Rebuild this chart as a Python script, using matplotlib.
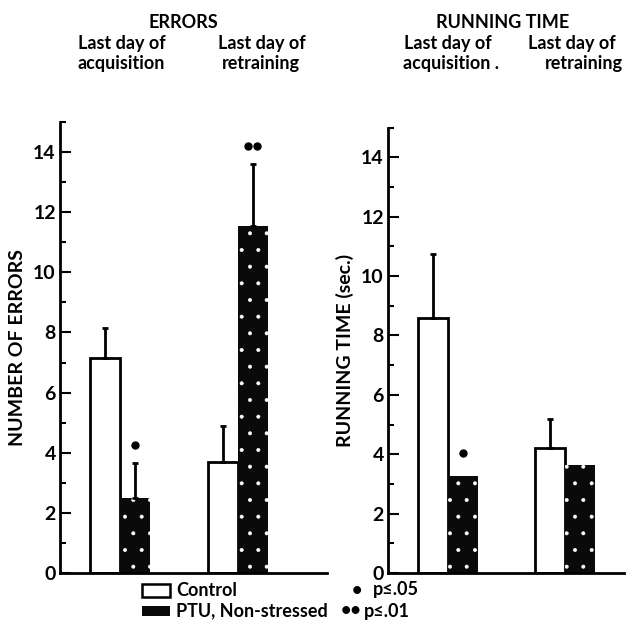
import matplotlib
matplotlib.use("Agg")
import matplotlib.pyplot as plt
import numpy as np

plt.rcParams['font.family'] = ['Lato', 'DejaVu Sans']
plt.rcParams['font.weight'] = 'bold'
plt.rcParams['axes.labelweight'] = 'bold'
plt.rcParams['hatch.color'] = 'white'
plt.rcParams['hatch.linewidth'] = 0.4

groups = ["Last day of\nacquisition", "Last day of\nretraining"]
err_control = [7.15, 3.7]
err_control_sd = [1.0, 1.2]
err_ptu = [2.5, 11.55]
err_ptu_sd = [1.15, 2.05]
err_sig = ["*", "**"]

run_control = [8.6, 4.2]
run_control_sd = [2.15, 1.0]
run_ptu = [3.25, 3.65]
run_ptu_sd = [0.0, 0.0]
run_sig = ["*", ""]

fig = plt.figure(figsize=(6.38, 6.4), dpi=100)
axL = fig.add_axes([60/638, 67/640, 267/638, 451/640])
axR = fig.add_axes([388/638, 67/640, 236/638, 445.5/640])

centers = np.array([2.0, 5.93])
w = 1.0

def draw(ax, ctrl, ctrl_sd, ptu, ptu_sd, sig, xmax, ylabel):
    xc = centers - w/2
    xp = centers + w/2
    ax.bar(xc, ctrl, width=w, facecolor='white', edgecolor='black', linewidth=2)
    ax.bar(xp, ptu, width=w, facecolor='#0a0a0a', hatch='.', linewidth=0)
    for x, v, e in list(zip(xc, ctrl, ctrl_sd)) + list(zip(xp, ptu, ptu_sd)):
        if e > 0:
            ax.errorbar([x], [v], yerr=[[0], [e]], fmt='none', ecolor='black',
                        elinewidth=2, capsize=2.5, capthick=2)
    for x, v, e, s in zip(xp, ptu, ptu_sd, sig):
        top = v + e + (0.6 if e > 0 else 0.8)
        if s == "*":
            ax.plot([x], [top], 'o', color='black', ms=5)
        elif s == "**":
            ax.plot([x - 0.15, x + 0.15], [top, top], 'o', color='black', ms=5)
    ax.set_xlim(0, xmax)
    ax.set_ylim(0, 15)
    ax.set_yticks(np.arange(0, 15, 2))
    ax.set_yticks(np.arange(1, 16, 2), minor=True)
    ax.tick_params(axis='y', which='major', direction='in', length=8, width=1.5,
                   labelsize=14, pad=3)
    ax.tick_params(axis='y', which='minor', direction='in', length=4, width=1.5)
    for lab in ax.get_yticklabels():
        lab.set_fontweight('bold')
    ax.set_xticks([])
    for sp in ['top', 'right']:
        ax.spines[sp].set_visible(False)
    for sp in ['left', 'bottom']:
        ax.spines[sp].set_linewidth(2)
    ax.set_ylabel(ylabel, fontsize=14, labelpad=5, fontweight='bold')

draw(axL, err_control, err_control_sd, err_ptu, err_ptu_sd, err_sig, 8.9, "NUMBER OF ERRORS")
draw(axR, run_control, run_control_sd, run_ptu, run_ptu_sd, run_sig, 7.9, "RUNNING TIME (sec.)")

fs = 13
fig.text(183/638, 1 - 22/640, "ERRORS", ha='center', va='center', fontsize=fs)
fig.text(503/638, 1 - 23/640, "RUNNING TIME", ha='center', va='center', fontsize=fs)
fig.text(122/638, 1 - 43/640, "Last day of", ha='center', va='center', fontsize=fs)
fig.text(121/638, 1 - 64/640, "acquisition", ha='center', va='center', fontsize=fs)
fig.text(262/638, 1 - 43/640, "Last day of", ha='center', va='center', fontsize=fs)
fig.text(261/638, 1 - 64/640, "retraining", ha='center', va='center', fontsize=fs)
fig.text(448/638, 1 - 43/640, "Last day of", ha='center', va='center', fontsize=fs)
fig.text(451/638, 1 - 64/640, "acquisition .", ha='center', va='center', fontsize=fs)
fig.text(572/638, 1 - 43/640, "Last day of", ha='center', va='center', fontsize=fs)
fig.text(584/638, 1 - 64/640, "retraining", ha='center', va='center', fontsize=fs)

# legend
from matplotlib.patches import Rectangle
fig.patches.append(Rectangle((142/638, 1 - 597/640), 28/638, 13/640, transform=fig.transFigure,
                             facecolor='white', edgecolor='black', linewidth=1.8))
fig.patches.append(Rectangle((142/638, 1 - 616/640), 28/638, 10/640, transform=fig.transFigure,
                             facecolor='#0a0a0a', edgecolor='none', hatch='.'))
fig.text(176/638, 1 - 590/640, "Control", ha='left', va='center', fontsize=fs)
fig.text(176/638, 1 - 611/640, "PTU, Non-stressed", ha='left', va='center', fontsize=fs)
fig.text(357/638, 1 - 590/640, "•", ha='center', va='center', fontsize=fs)
fig.text(373/638, 1 - 590/640, "p≤.05", ha='left', va='center', fontsize=fs)
fig.text(351/638, 1 - 611/640, "••", ha='center', va='center', fontsize=fs)
fig.text(364/638, 1 - 611/640, "p≤.01", ha='left', va='center', fontsize=fs)

fig.savefig("out.png", dpi=100)
